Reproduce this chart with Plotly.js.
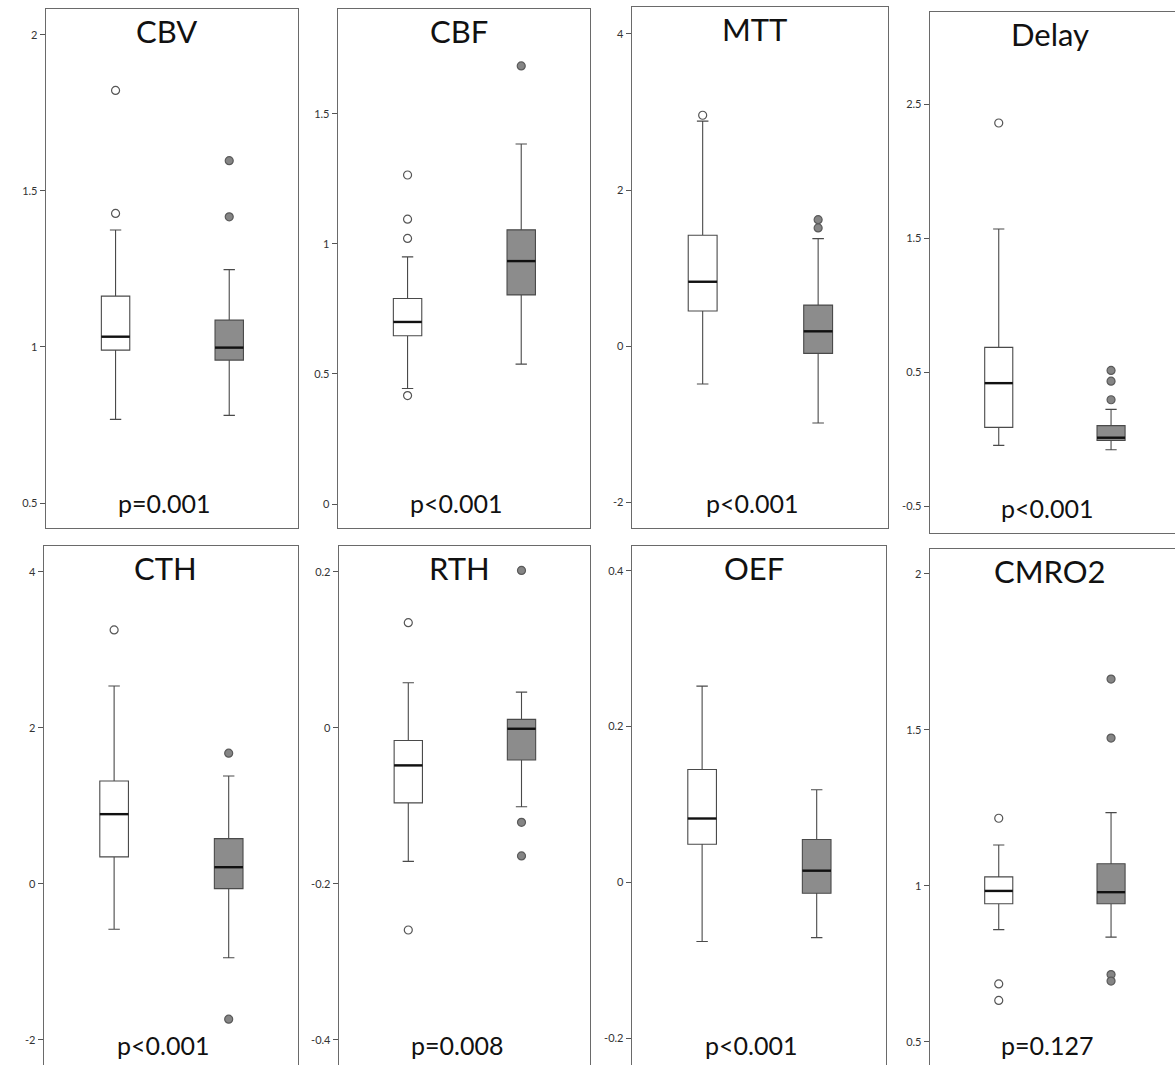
<!DOCTYPE html>
<html>
<head>
<meta charset="utf-8">
<script src="https://cdn.plot.ly/plotly-3.0.1.min.js"></script>
<style>
html,body{margin:0;padding:0;overflow:hidden;background:#fff;}
#chart{width:1185px;height:1075px;}
</style>
</head>
<body>
<div id="chart"></div>
<script>
// ---- data ----
const panels = ['CBV','CBF','MTT','Delay','CTH','RTH','OEF','CMRO2'];
const pvalues = ['p=0.001','p<0.001','p<0.001','p<0.001','p<0.001','p=0.008','p<0.001','p=0.127'];
const groups = [0, 1];

// group 1 (white boxes)
const whiteLow    = [0.768, 0.444, -0.486, -0.046, -0.581, -0.171, -0.076, 0.860];
const whiteQ1     = [0.990, 0.647,  0.450,  0.088,  0.348, -0.096,  0.049, 0.943];
const whiteMedian = [1.033, 0.700,  0.825,  0.418,  0.895, -0.048,  0.082, 0.984];
const whiteQ3     = [1.163, 0.790,  1.421,  0.685,  1.321, -0.016,  0.145, 1.029];
const whiteHigh   = [1.375, 0.950,  2.883,  1.568,  2.538,  0.058,  0.252, 1.131];
const whiteOutliers = [
  [1.822, 1.428],
  [1.265, 1.095, 1.021, 0.417],
  [2.958],
  [2.359],
  [3.257],
  [0.135, -0.259],
  [],
  [1.217, 0.686, 0.633]
];

// group 2 (grey boxes)
const greyLow    = [0.781, 0.538, -0.984, -0.079, -0.946, -0.101, -0.071, 0.836];
const greyQ1     = [0.958, 0.804, -0.093, -0.010, -0.060, -0.041, -0.014, 0.943];
const greyMedian = [0.998, 0.934,  0.190,  0.011,  0.215, -0.001,  0.015, 0.980];
const greyQ3     = [1.086, 1.054,  0.526,  0.101,  0.581,  0.011,  0.055, 1.071];
const greyHigh   = [1.248, 1.384,  1.377,  0.222,  1.385,  0.046,  0.119, 1.235];
const greyOutliers = [
  [1.597, 1.417],
  [1.684],
  [1.620, 1.514],
  [0.513, 0.433, 0.294],
  [1.677, -1.733],
  [0.202, -0.121, -0.164],
  [],
  [1.663, 1.474, 0.716, 0.695]
];

// axis ticks
const tickValues = [
  [0.5, 1, 1.5, 2],
  [0, 0.5, 1, 1.5],
  [-2, 0, 2, 4],
  [-0.5, 0.5, 1.5, 2.5],
  [-2, 0, 2, 4],
  [-0.4, -0.2, 0, 0.2],
  [-0.2, 0, 0.2, 0.4],
  [0.5, 1, 1.5, 2]
];
const tickLabels = [
  ['0.5', '1', '1.5', '2'],
  ['0', '0.5', '1', '1.5'],
  ['-2', '0', '2', '4'],
  ['-0.5', '0.5', '1.5', '2.5'],
  ['-2', '0', '2', '4'],
  ['-0.4', '-0.2', '0', '0.2'],
  ['-0.2', '0', '0.2', '0.4'],
  ['0.5', '1', '1.5', '2']
];
const yRanges = [
  [0.42, 2.083],
  [-0.092, 1.903],
  [-2.33, 4.345],
  [-0.70, 3.187],
  [-2.385, 4.333],
  [-0.4385, 0.2333],
  [-0.241, 0.432],
  [0.41, 2.08]
];

// ---- layout geometry (pixels) ----
const W = 1185, H = 1075;
const frameX = [[46,298],[338,590],[632,888],[930,1179],[44,298],[339,590],[632,886],[930,1179]];
const frameY = [[9,528],[9,528],[7,528],[12,533],[546,1070],[546,1070],[546,1070],[549,1070]];

const BOXW = 0.25;
const FRAME = '#6a6a6a';
const LINE = '#4a4a4a';
const GREY = '#8c8c8c';
const FONT = 'Lato, "Open Sans", sans-serif';

const data = [];
const layout = {
  width: W, height: H,
  margin: {l: 0, r: 0, t: 0, b: 0},
  paper_bgcolor: '#fff', plot_bgcolor: '#fff',
  showlegend: false,
  hovermode: false,
  annotations: []
};

panels.forEach((name, i) => {
  const n = i + 1;
  const xa = n === 1 ? 'x' : 'x' + n;
  const ya = n === 1 ? 'y' : 'y' + n;
  const xk = n === 1 ? 'xaxis' : 'xaxis' + n;
  const yk = n === 1 ? 'yaxis' : 'yaxis' + n;

  // boxes
  data.push({
    type: 'box', xaxis: xa, yaxis: ya, orientation: 'v',
    x: [groups[0]], q1: [whiteQ1[i]], median: [whiteMedian[i]], q3: [whiteQ3[i]],
    lowerfence: [whiteLow[i]], upperfence: [whiteHigh[i]],
    width: BOXW, whiskerwidth: 0.4,
    fillcolor: '#ffffff', line: {color: LINE, width: 1.1},
    boxpoints: false, hoverinfo: 'skip'
  });
  data.push({
    type: 'box', xaxis: xa, yaxis: ya, orientation: 'v',
    x: [groups[1]], q1: [greyQ1[i]], median: [greyMedian[i]], q3: [greyQ3[i]],
    lowerfence: [greyLow[i]], upperfence: [greyHigh[i]],
    width: BOXW, whiskerwidth: 0.4,
    fillcolor: GREY, line: {color: LINE, width: 1.1},
    boxpoints: false, hoverinfo: 'skip'
  });
  // thick median lines
  data.push({
    type: 'scatter', mode: 'lines', xaxis: xa, yaxis: ya,
    x: [groups[0] - BOXW/2, groups[0] + BOXW/2], y: [whiteMedian[i], whiteMedian[i]],
    line: {color: '#111', width: 2.4}, hoverinfo: 'skip'
  });
  data.push({
    type: 'scatter', mode: 'lines', xaxis: xa, yaxis: ya,
    x: [groups[1] - BOXW/2, groups[1] + BOXW/2], y: [greyMedian[i], greyMedian[i]],
    line: {color: '#111', width: 2.4}, hoverinfo: 'skip'
  });
  // outliers
  data.push({
    type: 'scatter', mode: 'markers', xaxis: xa, yaxis: ya,
    x: whiteOutliers[i].map(() => groups[0]), y: whiteOutliers[i],
    marker: {symbol: 'circle', size: 8, color: '#ffffff', line: {color: '#555', width: 1.2}},
    hoverinfo: 'skip'
  });
  data.push({
    type: 'scatter', mode: 'markers', xaxis: xa, yaxis: ya,
    x: greyOutliers[i].map(() => groups[1]), y: greyOutliers[i],
    marker: {symbol: 'circle', size: 8, color: '#858585', line: {color: '#5a5a5a', width: 1.2}},
    hoverinfo: 'skip'
  });

  layout[xk] = {
    domain: [frameX[i][0] / W, frameX[i][1] / W],
    anchor: ya,
    range: [-0.612, 1.605],
    showline: true, mirror: true, linecolor: FRAME, linewidth: 1.3,
    showticklabels: false, ticks: '', showgrid: false, zeroline: false, fixedrange: true
  };
  layout[yk] = {
    domain: [1 - frameY[i][1] / H, 1 - frameY[i][0] / H],
    anchor: xa,
    range: yRanges[i],
    tickmode: 'array', tickvals: tickValues[i], ticktext: tickLabels[i],
    ticks: 'outside', ticklen: 5, tickcolor: '#555', tickwidth: 1,
    tickfont: {family: FONT, size: 11, color: '#333'},
    showline: true, mirror: true, linecolor: FRAME, linewidth: 1.3,
    showgrid: false, zeroline: false, fixedrange: true
  };

  layout.annotations.push({
    xref: xa + ' domain', yref: ya + ' domain', x: 0.48, y: 1,
    xanchor: 'center', yanchor: 'top', yshift: -1,
    text: name, showarrow: false,
    font: {family: FONT, size: 31, color: '#111'}
  });
  layout.annotations.push({
    xref: xa + ' domain', yref: ya + ' domain', x: 0.47, y: 0,
    xanchor: 'center', yanchor: 'bottom', yshift: 8,
    text: pvalues[i], showarrow: false,
    font: {family: FONT, size: 25, color: '#111'}
  });
});

Plotly.newPlot('chart', data, layout, {displayModeBar: false, staticPlot: true});
</script>
</body>
</html>
